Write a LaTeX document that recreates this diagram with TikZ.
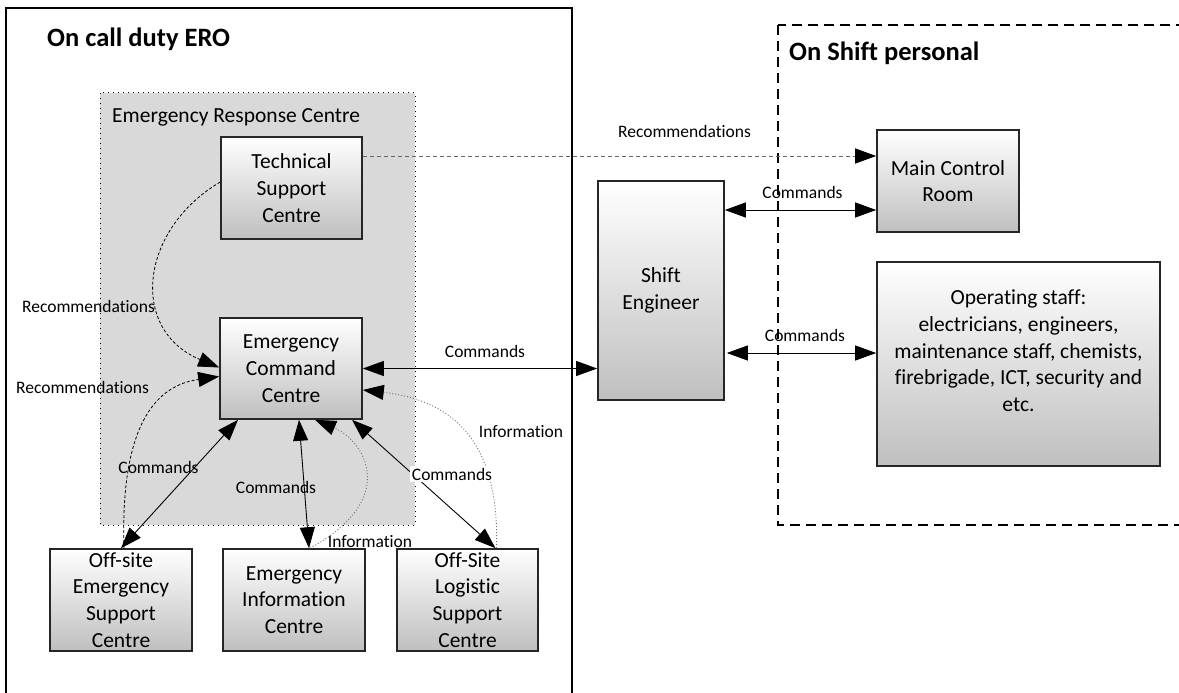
\documentclass[tikz,border=0pt]{standalone}
\usepackage{fontspec}
\setmainfont{Carlito}[Ligatures={NoCommon}]
\usetikzlibrary{arrows.meta,calc}
\begin{document}
\begin{tikzpicture}[x=1pt,y=-1pt,
  >={Triangle[length=21pt,width=15pt]},
  box/.style={draw=black!85, line width=1.6pt, top color=white, bottom color=black!25,
    align=center, inner sep=0pt, font=\fontsize{21.5}{26.7}\selectfont},
  lbl/.style={inner sep=0pt, anchor=base, font=\fontsize{17.5}{21}\selectfont},
  title/.style={inner sep=0pt, anchor=base west, font=\fontsize{26.5}{30}\selectfont\bfseries},
  conn/.style={line width=0.9pt, black},
  recdash/.style={line width=0.8pt, black, dash pattern=on 3pt off 2pt},
  infodot/.style={line width=0.9pt, black!55, dash pattern=on 1pt off 2pt},
]
\useasboundingbox (0,0) rectangle (1179,693);
% group frames
\draw[line width=1.3pt] (6,8) rectangle (572,720);
\draw[line width=1.5pt, dash pattern=on 10pt off 6pt] (778,25) rectangle (1210,525);
\fill[black!15] (100,93) rectangle (415,525);
\draw[line width=1pt, dash pattern=on 1pt off 4pt] (100,93) rectangle (415,525);

\node[title] (t1) at (47,47) {On call duty ERO};
\node[title] (t2) at (789,61) {On Shift personal};
\node[inner sep=0pt, anchor=base west, font=\fontsize{21.5}{26}\selectfont] (erc) at (112,122) {Emergency Response Centre};

% boxes
\node[box, minimum width=141pt, minimum height=102pt] (tsc) at (291.5,188) {Technical\\Support\\Centre};
\node[box, minimum width=142pt, minimum height=101pt] (ecc) at (291,368.5) {Emergency\\Command\\Centre};
\node[box, minimum width=142pt, minimum height=102pt] (osesc) at (121,600) {Off-site\\Emergency\\Support\\Centre};
\node[box, minimum width=142pt, minimum height=102pt] (eic) at (294,600) {Emergency\\Information\\Centre};
\node[box, minimum width=141pt, minimum height=102pt] (oslsc) at (467.5,600) {Off-Site\\Logistic\\Support\\Centre};
\node[box, minimum width=126pt, minimum height=219pt] (se) at (661,290.5) {Shift\\Engineer};
\node[box, minimum width=142pt, minimum height=102pt] (mcr) at (948,181) {Main Control\\Room};
\node[box, minimum width=283pt, minimum height=204pt] (os) at (1018.5,364) {Operating staff:\\electricians, engineers,\\maintenance staff, chemists,\\firebrigade, ICT, security and\\etc.\\\mbox{}};

% helper levels
\coordinate (y156) at (0,156);
\coordinate (y210) at (0,210);
\coordinate (y353) at (0,353);

% connectors
\draw[-{Triangle[length=21pt,width=15pt,color=black]}, line width=0.9pt, black!60, dash pattern=on 4pt off 3pt]
  (tsc.east |- y156) -- (mcr.west |- y156);
\draw[conn,<->] (se.east |- y210) -- (mcr.west |- y210);
\draw[conn,<->] ($(se.east |- y353)+(2,0)$) -- (os.west |- y353);
\draw[conn,<->] (ecc.east) -- (se.west |- ecc.east);

\draw[recdash,->] ($(tsc.west)+(0,-6)$) .. controls +(-81,48) and +(-90,-37.5) .. ($(ecc.west)+(0,-1)$);
\draw[recdash,->] ($(osesc.north)+(3,0)$) .. controls +(-4,-129) and +(-60,8.5) .. ($(ecc.west)+(0,8)$);

\draw[conn,<->] (osesc.north) -- ($(ecc.south)+(-53,0)$);
\draw[conn,<->] ($(eic.north)+(15,0)$) -- ($(ecc.south)+(8,0)$);
\draw[conn,<->] ($(oslsc.north)+(28,0)$) -- ($(ecc.south)+(61,0)$);

\draw[infodot,-{Triangle[length=21pt,width=15pt,color=black]}] ($(eic.north)+(16,0)$) .. controls +(90,-49) and +(50,21) .. ($(ecc.south)+(24,0)$);
\draw[infodot,-{Triangle[length=21pt,width=15pt,color=black]}] ($(oslsc.north)+(29,0)$) .. controls +(3.5,-109) and +(88,10) .. ($(ecc.east)+(0,21.5)$);

% labels
\node[lbl] (l1) at (684.5,137) {Recommendations};
\node[lbl] (l2) at (802.5,198) {Commands};
\node[lbl] (l3) at (805,341) {Commands};
\node[lbl] (l4) at (485,357) {Commands};
\node[lbl] (l5) at (88.5,312) {Recommendations};
\node[lbl] (l6) at (82.5,393) {Recommendations};
\node[lbl] (l7) at (158.5,473) {Commands};
\node[lbl] (l8) at (276,493) {Commands};
\node[lbl, fill=white, inner sep=1.5pt] (l9) at (452,480) {Commands};
\node[lbl] (l10) at (521,437) {Information};
\node[lbl] (l11) at (370,547) {Information};
\end{tikzpicture}
\end{document}
